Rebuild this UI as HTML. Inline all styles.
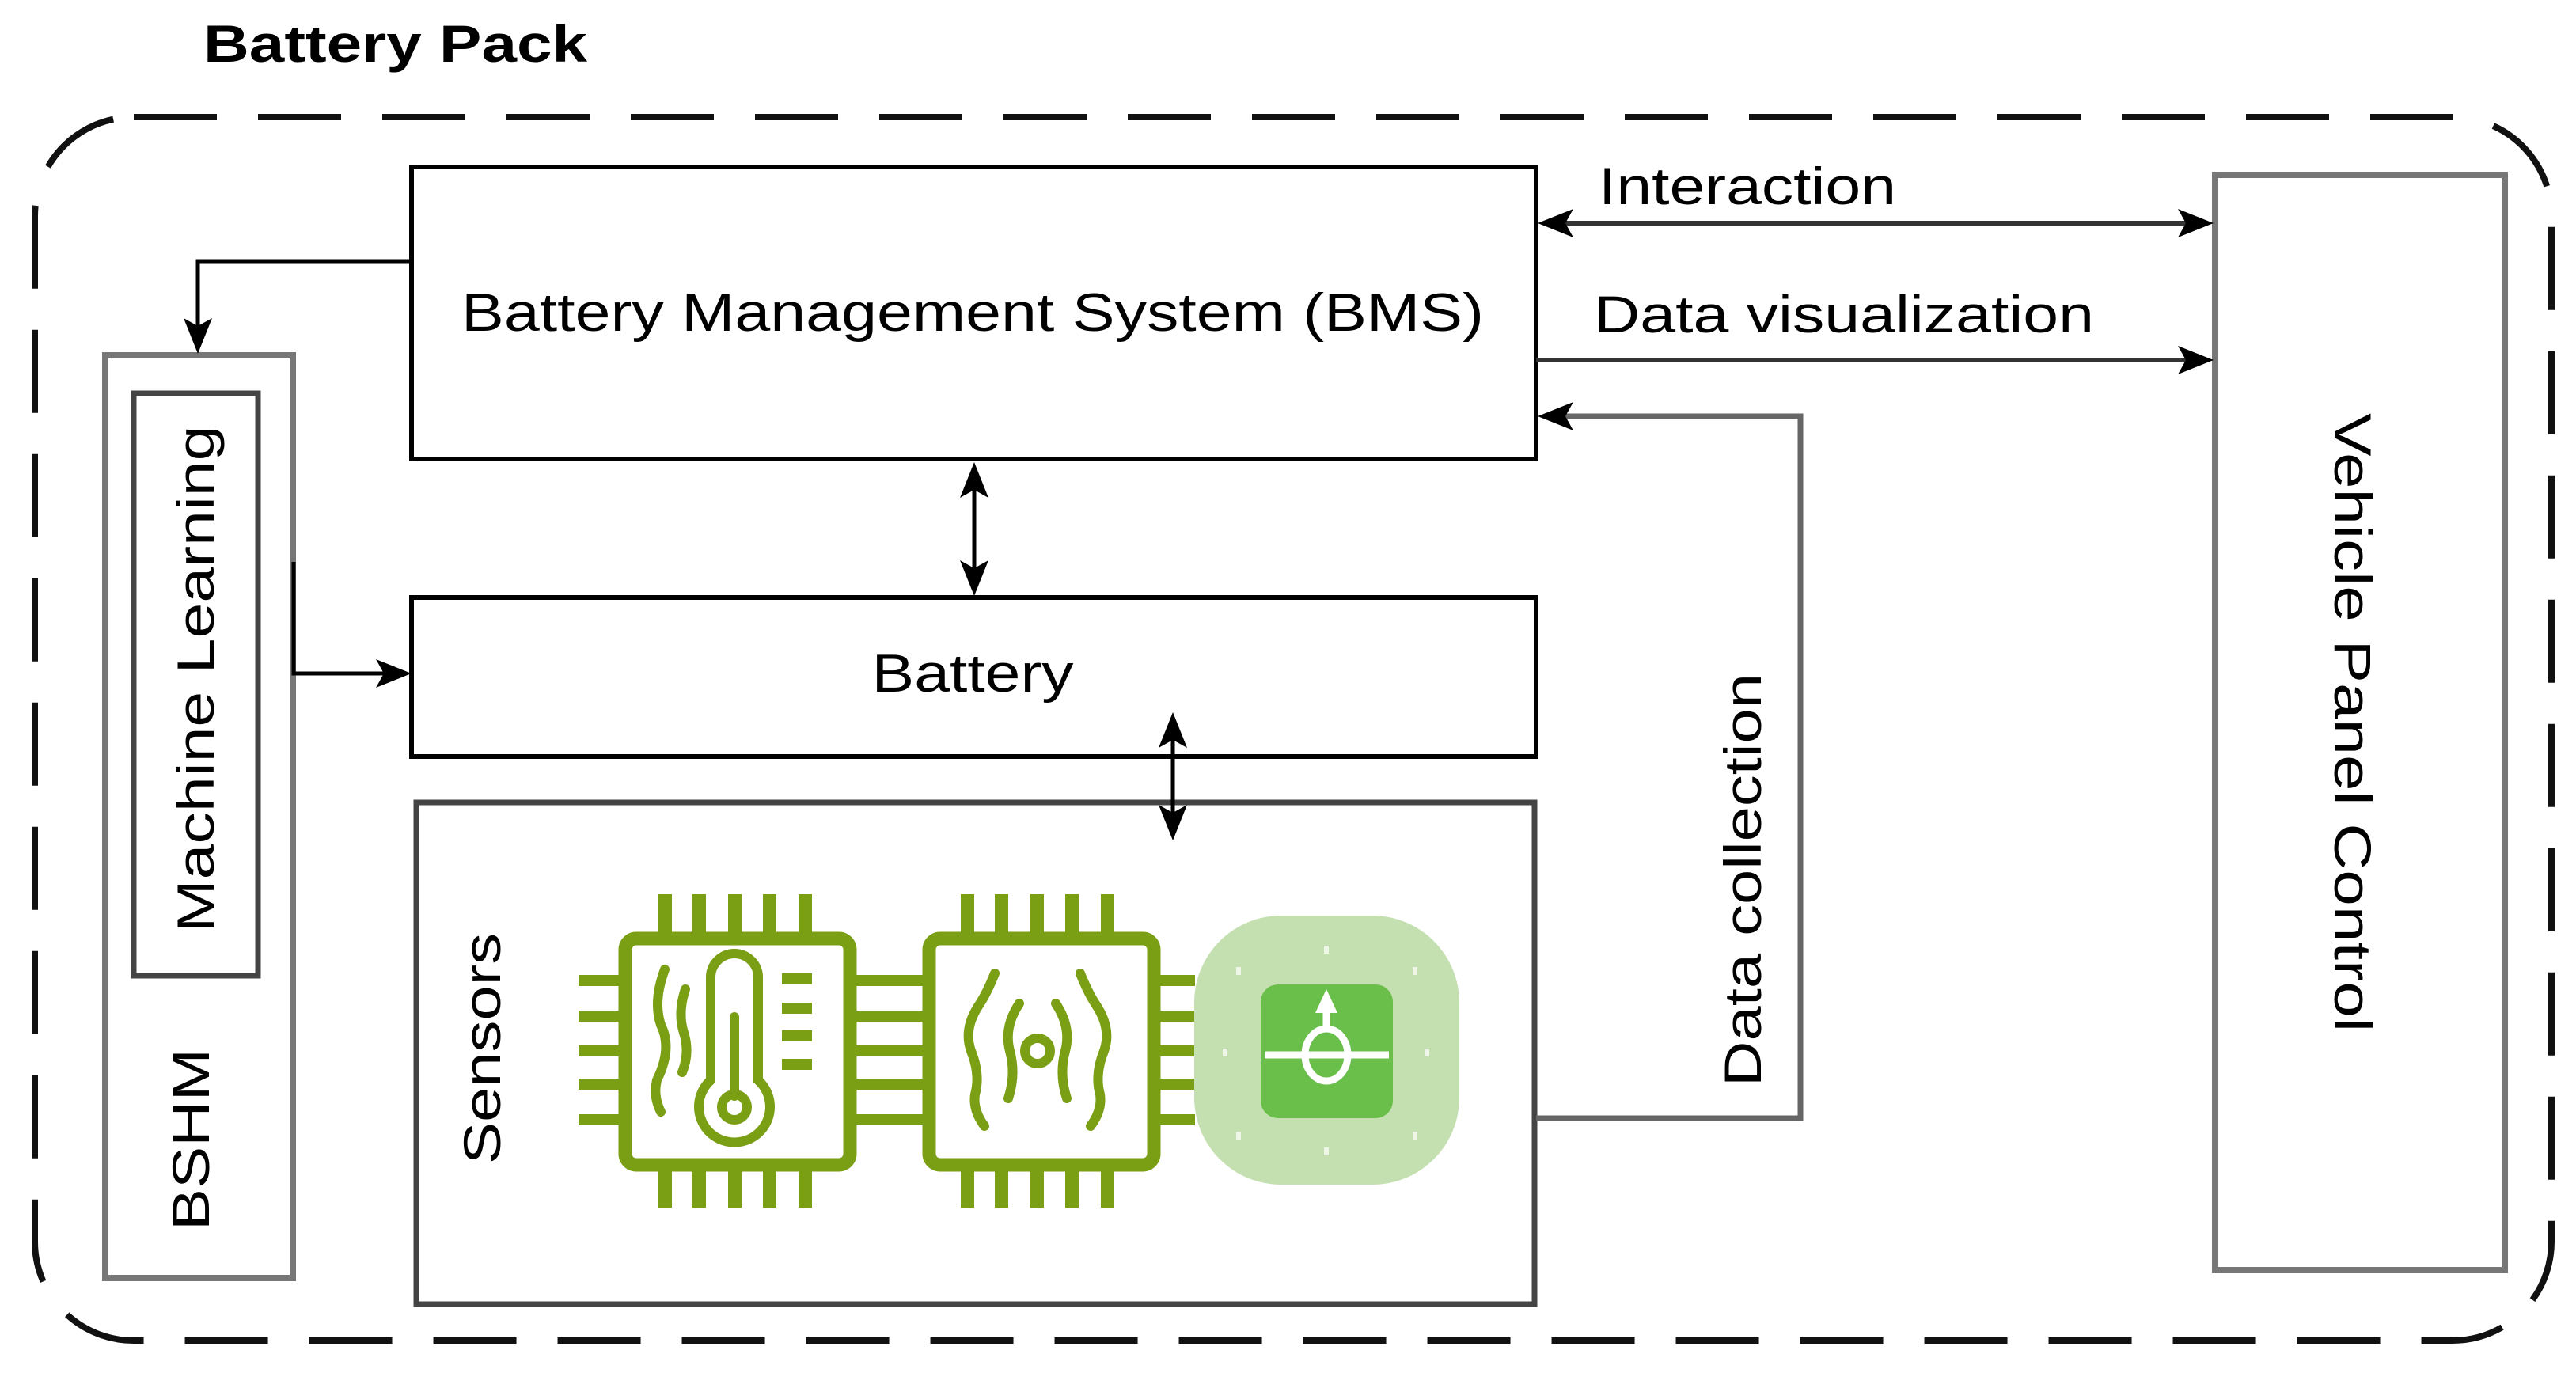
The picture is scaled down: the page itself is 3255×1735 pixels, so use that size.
<!DOCTYPE html>
<html><head><meta charset="utf-8"><style>
html,body{margin:0;padding:0;background:#fff;}
svg{display:block;}
text{font-family:"Liberation Sans",Arial,sans-serif;fill:#000;}
</style></head><body>
<svg width="3255" height="1735" viewBox="0 0 3255 1735" xmlns="http://www.w3.org/2000/svg">
<defs>
<marker id="ah" viewBox="0 0 20 20" refX="18" refY="10" markerWidth="8" markerHeight="8" markerUnits="userSpaceOnUse" orient="auto" overflow="visible">
</marker>
</defs>
<!-- title -->
<text x="257" y="78" font-size="66" font-weight="bold" textLength="485" lengthAdjust="spacingAndGlyphs">Battery Pack</text>
<!-- outer dashed -->
<rect x="44" y="148" width="3180" height="1546" rx="125" ry="125" fill="none" stroke="#111" stroke-width="8" stroke-dasharray="105 52"/>

<!-- BMS -->
<rect x="520" y="211" width="1421" height="369" fill="#fff" stroke="#000" stroke-width="6"/>
<text x="1229" y="418" font-size="68" text-anchor="middle" textLength="1292" lengthAdjust="spacingAndGlyphs">Battery Management System (BMS)</text>
<!-- Battery -->
<rect x="520" y="755" width="1421" height="201" fill="#fff" stroke="#000" stroke-width="6"/>
<text x="1229" y="874" font-size="68" text-anchor="middle" textLength="255" lengthAdjust="spacingAndGlyphs">Battery</text>
<!-- Sensors -->
<rect x="526" y="1014" width="1413" height="634" fill="#fff" stroke="#444" stroke-width="7"/>
<text transform="translate(632,1325) rotate(-90)" font-size="66" text-anchor="middle" textLength="292" lengthAdjust="spacingAndGlyphs">Sensors</text>

<!-- BSHM -->
<rect x="133" y="449" width="237" height="1166" fill="#fff" stroke="#777" stroke-width="8"/>
<rect x="169" y="497" width="157" height="736" fill="#fff" stroke="#444" stroke-width="7"/>
<text transform="translate(270,858) rotate(-90)" font-size="66" text-anchor="middle" textLength="641" lengthAdjust="spacingAndGlyphs">Machine Learning</text>
<text transform="translate(264,1440) rotate(-90)" font-size="66" text-anchor="middle" textLength="230" lengthAdjust="spacingAndGlyphs">BSHM</text>

<!-- Vehicle Panel Control -->
<rect x="2799" y="221" width="366" height="1384" fill="#fff" stroke="#777" stroke-width="8"/>
<text transform="translate(2950,913) rotate(90)" font-size="66" text-anchor="middle" textLength="782" lengthAdjust="spacingAndGlyphs">Vehicle Panel Control</text>

<!-- connectors -->
<g fill="none" stroke="#000" stroke-width="5">
<polyline points="518,330 250,330 250,420"/>
<polyline points="371,710 371,851 495,851"/>
<line x1="1231" y1="610" x2="1231" y2="725"/>
<line x1="1482" y1="925" x2="1482" y2="1035"/>
<line x1="1968" y1="282" x2="2770" y2="282" stroke="#333" stroke-width="6"/>
<line x1="1941" y1="455" x2="2770" y2="455" stroke="#333" stroke-width="6"/>
<polyline points="1941,1413 2275,1413 2275,526 1968,526" stroke="#666" stroke-width="7"/>
</g>
<g fill="#000">
<polygon points="250,447 232,402 250,412 268,402"/>
<polygon points="520,851 475,833 485,851 475,869"/>
<polygon points="1231,584 1213,629 1231,619 1249,629"/>
<polygon points="1231,753 1213,708 1231,718 1249,708"/>
<polygon points="1482,900 1464,945 1482,935 1500,945"/>
<polygon points="1482,1062 1464,1017 1482,1027 1500,1017"/>
<polygon points="1943,282 1988,264 1978,282 1988,300"/>
<polygon points="2797,282 2752,264 2762,282 2752,300"/>
<polygon points="2797,455 2752,437 2762,455 2752,473"/>
<polygon points="1943,526 1988,508 1978,526 1988,544"/>
</g>
<text x="2020" y="258" font-size="66" textLength="376" lengthAdjust="spacingAndGlyphs">Interaction</text>
<text x="2014" y="420" font-size="66" textLength="632" lengthAdjust="spacingAndGlyphs">Data visualization</text>
<text transform="translate(2225,1112) rotate(-90)" font-size="66" text-anchor="middle" textLength="522" lengthAdjust="spacingAndGlyphs">Data collection</text>

<!-- sensor icons -->
<g fill="#7a9e14">
  <!-- chip1 pins -->
  <g>
    <rect x="832" y="1130" width="17" height="50"/><rect x="875" y="1130" width="17" height="50"/><rect x="920" y="1130" width="17" height="50"/><rect x="964" y="1130" width="17" height="50"/><rect x="1009" y="1130" width="17" height="50"/>
    <rect x="832" y="1476" width="17" height="50"/><rect x="875" y="1476" width="17" height="50"/><rect x="920" y="1476" width="17" height="50"/><rect x="964" y="1476" width="17" height="50"/><rect x="1009" y="1476" width="17" height="50"/>
    <rect x="731" y="1232" width="55" height="14"/><rect x="731" y="1277" width="55" height="14"/><rect x="731" y="1321" width="55" height="14"/><rect x="731" y="1363" width="55" height="14"/><rect x="731" y="1408" width="55" height="14"/>
    <rect x="1070" y="1232" width="100" height="14"/><rect x="1070" y="1277" width="100" height="14"/><rect x="1070" y="1321" width="100" height="14"/><rect x="1070" y="1363" width="100" height="14"/><rect x="1070" y="1408" width="100" height="14"/>
  </g>
  <g>
    <rect x="1214" y="1130" width="17" height="50"/><rect x="1257" y="1130" width="17" height="50"/><rect x="1302" y="1130" width="17" height="50"/><rect x="1346" y="1130" width="17" height="50"/><rect x="1391" y="1130" width="17" height="50"/>
    <rect x="1214" y="1476" width="17" height="50"/><rect x="1257" y="1476" width="17" height="50"/><rect x="1302" y="1476" width="17" height="50"/><rect x="1346" y="1476" width="17" height="50"/><rect x="1391" y="1476" width="17" height="50"/>
    <rect x="1454" y="1232" width="56" height="14"/><rect x="1454" y="1277" width="56" height="14"/><rect x="1454" y="1321" width="56" height="14"/><rect x="1454" y="1363" width="56" height="14"/><rect x="1454" y="1408" width="56" height="14"/>
  </g>
</g>
<g fill="#fff" stroke="#7a9e14" stroke-width="17">
  <rect x="790" y="1186" width="284" height="286" rx="14"/>
  <rect x="1174" y="1186" width="284" height="286" rx="14"/>
</g>
<g fill="none" stroke="#7a9e14" stroke-width="12" stroke-linecap="round">
  <!-- thermometer -->
  <path d="M898,1365 V1235 a30,30 0 0 1 60,0 V1365 a45,45 0 1 1 -60,0 Z"/>
  <line x1="928" y1="1285" x2="928" y2="1385"/>
  <circle cx="928" cy="1399" r="16"/>
  <path d="M840,1225 q-15,40 -5,70 q15,30 -5,70 q-5,20 5,40"/>
  <path d="M866,1250 q-10,30 -2,55 q8,25 -2,50"/>
  <!-- chip2 waves -->
  <circle cx="1311" cy="1328" r="16"/>
  <path d="M1288,1268 q-20,30 -12,60 q8,30 -2,60"/>
  <path d="M1334,1268 q20,30 12,60 q-8,30 2,60"/>
  <path d="M1257,1230 q-10,25 -20,40 q-20,30 -10,58 q12,30 5,55 q-3,20 12,40"/>
  <path d="M1365,1230 q10,25 20,40 q20,30 10,58 q-12,30 -5,55 q3,20 -12,40"/>
</g>
<g fill="#7a9e14">
  <rect x="988" y="1230" width="38" height="14"/><rect x="988" y="1267" width="38" height="14"/><rect x="988" y="1302" width="38" height="14"/><rect x="988" y="1338" width="38" height="14"/>
</g>
<!-- green rounded icon -->
<rect x="1509" y="1157" width="335" height="340" rx="110" fill="#c5e0b0"/>
<g fill="#eef6e8">
  <rect x="1673" y="1195" width="6" height="10"/><rect x="1673" y="1450" width="6" height="10"/>
  <rect x="1562" y="1222" width="6" height="10"/><rect x="1785" y="1222" width="6" height="10"/>
  <rect x="1562" y="1430" width="6" height="10"/><rect x="1785" y="1430" width="6" height="10"/>
  <rect x="1545" y="1325" width="6" height="10"/><rect x="1800" y="1325" width="6" height="10"/>
</g>
<rect x="1593" y="1244" width="167" height="169" rx="22" fill="#6abf4b"/>
<g stroke="#fff" stroke-width="9" fill="none">
  <line x1="1598" y1="1333" x2="1755" y2="1333"/>
  <ellipse cx="1676" cy="1333" rx="27" ry="33"/>
  <line x1="1676" y1="1300" x2="1676" y2="1270"/>
</g>
<polygon points="1676,1250 1662,1280 1690,1280" fill="#fff"/>
</svg>
</body></html>
